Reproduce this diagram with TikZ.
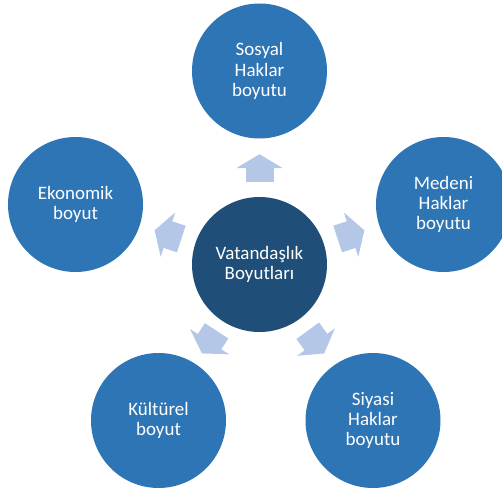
\documentclass[tikz,border=0pt]{standalone}
\usepackage{fontspec}
\setmainfont{Carlito}
\usepackage{tikz}
\usetikzlibrary{arrows.meta}
\usetikzlibrary{calc}
\usetikzlibrary{positioning}
\definecolor{ringblue}{HTML}{2E75B6}
\definecolor{hubblue}{HTML}{1F4E79}
\definecolor{spokeblue}{HTML}{B4C7E7}
\tikzset{dim/.style={circle,fill=ringblue,text=white,minimum size=2.7cm,inner sep=0pt,align=center,
    font=\fontsize{10.8}{11.6}\selectfont}}
\tikzset{hub/.style={dim,fill=hubblue}}
\tikzset{spoke/.style={draw=spokeblue,line width=0.56cm,-{Triangle[width=0.92cm,length=0.28cm]}}}

\begin{document}
\begin{tikzpicture}
        \useasboundingbox (0,0) rectangle (10.04,-9.82);

        \node[hub] (vat) at (5.19,-5.29) {Vatandaşlık\\Boyutları};
        \node[dim] (sos) at (5.19,-1.42) {Sosyal\\Haklar\\boyutu};
        \node[dim] (med) at (8.87,-4.09) {Medeni\\Haklar\\boyutu};
        \node[dim] (siy) at (7.46,-8.41) {Siyasi\\Haklar\\boyutu};
        \node[dim] (kul) at (3.17,-8.41) {Kültürel\\boyut};
        \node[dim] (eko) at (1.51,-4.09) {Ekonomik\\boyut};

        \foreach \d in {sos,med,siy,kul,eko}
            \draw[spoke] ($(vat)!0.425!(\d)$) -- ($(vat)!0.57!(\d)$);
    \end{tikzpicture}
\end{document}
